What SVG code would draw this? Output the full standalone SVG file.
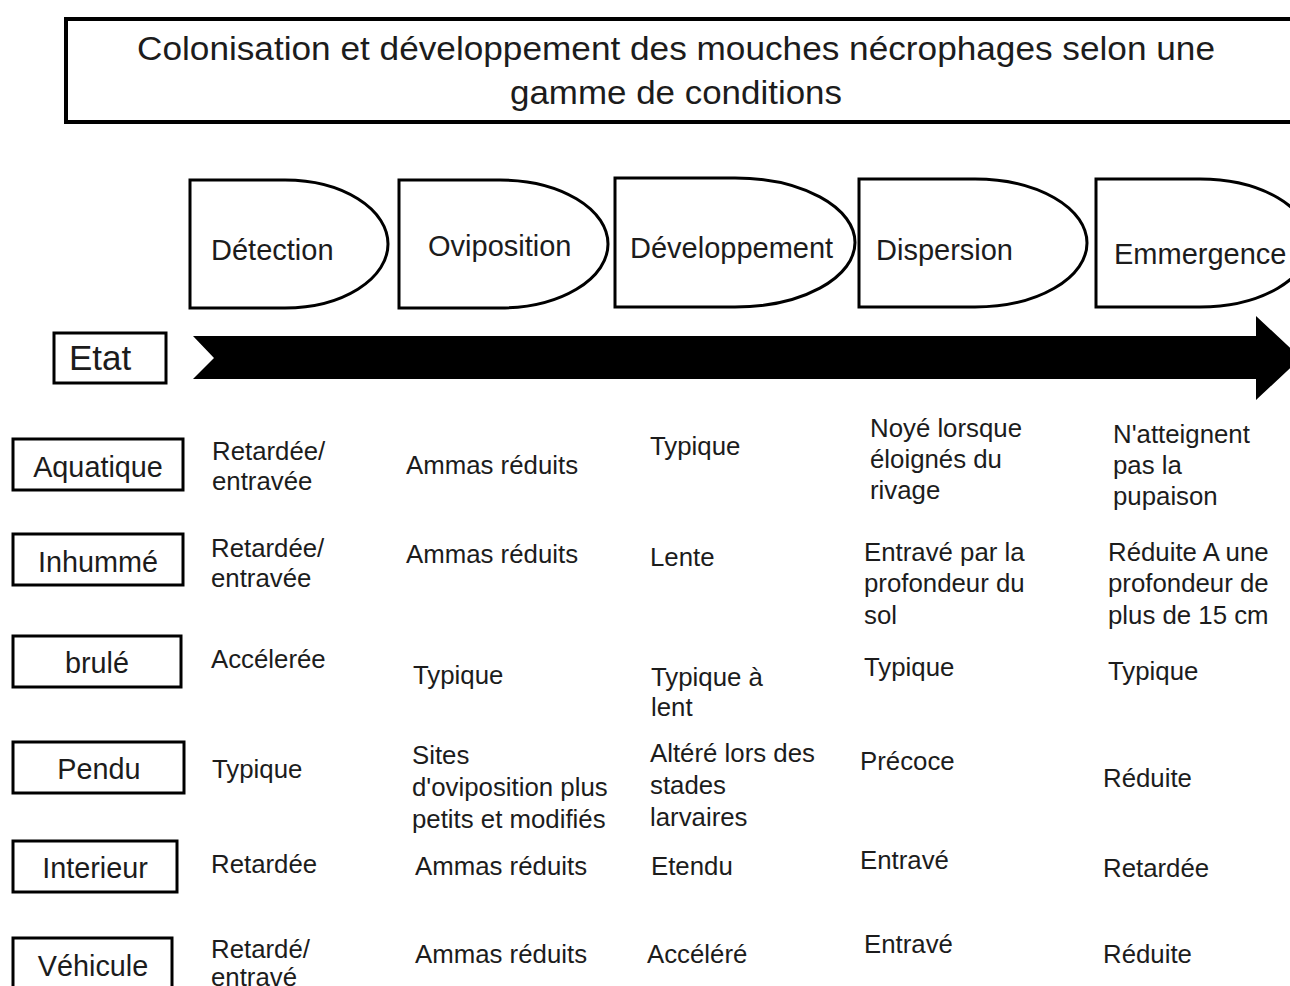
<svg xmlns="http://www.w3.org/2000/svg" width="1290" height="986" viewBox="0 0 1290 986">
<style>
.box{fill:#fff;stroke:#000;stroke-width:3}
.t{font-family:"Liberation Sans",Arial,sans-serif;fill:#1c1c1c}
.ttl{font-size:34px}
.stg{font-size:29px}
.row{font-size:28.8px;text-anchor:middle}
.c{font-size:25.8px}
</style>
<rect width="1290" height="986" fill="#fff"/>
<g id="title">
<rect x="66" y="19" width="1240" height="103" fill="#fff" stroke="#000" stroke-width="4"/>
<text class="t ttl" x="137" y="60" textLength="1078" lengthAdjust="spacingAndGlyphs">Colonisation et développement des mouches nécrophages selon une</text>
<text class="t ttl" x="510" y="104" textLength="332" lengthAdjust="spacingAndGlyphs">gamme de conditions</text>
</g>
<g id="stage-detection">
<path class="box" d="M190,180 H285 A103,64 0 0 1 285,308 H190 Z"/>
<text class="t stg" x="211" y="260">Détection</text>
</g>
<g id="stage-oviposition">
<path class="box" d="M399,180 H500 A108,64 0 0 1 500,308 H399 Z"/>
<text class="t stg" x="428" y="256">Oviposition</text>
</g>
<g id="stage-developpement">
<path class="box" d="M615,178 H735 A120,64.5 0 0 1 735,307 H615 Z"/>
<text class="t stg" x="630" y="258">Développement</text>
</g>
<g id="stage-dispersion">
<path class="box" d="M859,179 H975 A112,64 0 0 1 975,307 H859 Z"/>
<text class="t stg" x="876" y="260">Dispersion</text>
</g>
<g id="stage-emmergence">
<path class="box" d="M1096,179 H1200 A110,64 0 0 1 1200,307 H1096 Z"/>
<text class="t stg" x="1114" y="264">Emmergence</text>
</g>
<g id="etat">
<rect class="box" x="54" y="333" width="112" height="50"/>
<text class="t" x="69" y="370" font-size="35">Etat</text>
</g>
<g id="connectors">
<polygon points="193,336 1256,336 1256,316 1301,358 1256,400 1256,379 193,379 214,358" fill="#000"/>
</g>
<g id="row-aquatique">
<rect class="box" x="13" y="439" width="170" height="51"/>
<text class="t row" x="98" y="477">Aquatique</text>
<text class="t c" x="212" y="460">Retardée/</text>
<text class="t c" x="212" y="490">entravée</text>
<text class="t c" x="406" y="474">Ammas réduits</text>
<text class="t c" x="650" y="455">Typique</text>
<text class="t c" x="870" y="437">Noyé lorsque</text>
<text class="t c" x="870" y="468">éloignés du</text>
<text class="t c" x="870" y="499">rivage</text>
<text class="t c" x="1113" y="443">N'atteignent</text>
<text class="t c" x="1113" y="474">pas la</text>
<text class="t c" x="1113" y="505">pupaison</text>
</g>
<g id="row-inhumme">
<rect class="box" x="13" y="534" width="170" height="51"/>
<text class="t row" x="98" y="572">Inhummé</text>
<text class="t c" x="211" y="557">Retardée/</text>
<text class="t c" x="211" y="587">entravée</text>
<text class="t c" x="406" y="563">Ammas réduits</text>
<text class="t c" x="650" y="566">Lente</text>
<text class="t c" x="864" y="561">Entravé par la</text>
<text class="t c" x="864" y="592">profondeur du</text>
<text class="t c" x="864" y="624">sol</text>
<text class="t c" x="1108" y="561">Réduite A une</text>
<text class="t c" x="1108" y="592">profondeur de</text>
<text class="t c" x="1108" y="624">plus de 15 cm</text>
</g>
<g id="row-brule">
<rect class="box" x="13" y="636" width="168" height="51"/>
<text class="t row" x="97" y="673">brulé</text>
<text class="t c" x="211" y="668">Accélerée</text>
<text class="t c" x="413" y="684">Typique</text>
<text class="t c" x="651" y="686">Typique à</text>
<text class="t c" x="651" y="716">lent</text>
<text class="t c" x="864" y="676">Typique</text>
<text class="t c" x="1108" y="680">Typique</text>
</g>
<g id="row-pendu">
<rect class="box" x="13" y="742" width="171" height="51"/>
<text class="t row" x="99" y="779">Pendu</text>
<text class="t c" x="212" y="778">Typique</text>
<text class="t c" x="412" y="764">Sites</text>
<text class="t c" x="412" y="796">d'oviposition plus</text>
<text class="t c" x="412" y="828">petits et modifiés</text>
<text class="t c" x="650" y="762">Altéré lors des</text>
<text class="t c" x="650" y="794">stades</text>
<text class="t c" x="650" y="826">larvaires</text>
<text class="t c" x="860" y="770">Précoce</text>
<text class="t c" x="1103" y="787">Réduite</text>
</g>
<g id="row-interieur">
<rect class="box" x="13" y="841" width="164" height="51"/>
<text class="t row" x="95" y="878">Interieur</text>
<text class="t c" x="211" y="873">Retardée</text>
<text class="t c" x="415" y="875">Ammas réduits</text>
<text class="t c" x="651" y="875">Etendu</text>
<text class="t c" x="860" y="869">Entravé</text>
<text class="t c" x="1103" y="877">Retardée</text>
</g>
<g id="row-vehicule">
<rect class="box" x="13" y="938" width="159" height="60"/>
<text class="t row" x="93" y="976">Véhicule</text>
<text class="t c" x="211" y="958">Retardé/</text>
<text class="t c" x="211" y="986">entravé</text>
<text class="t c" x="415" y="963">Ammas réduits</text>
<text class="t c" x="647" y="963">Accéléré</text>
<text class="t c" x="864" y="953">Entravé</text>
<text class="t c" x="1103" y="963">Réduite</text>
</g>
</svg>
